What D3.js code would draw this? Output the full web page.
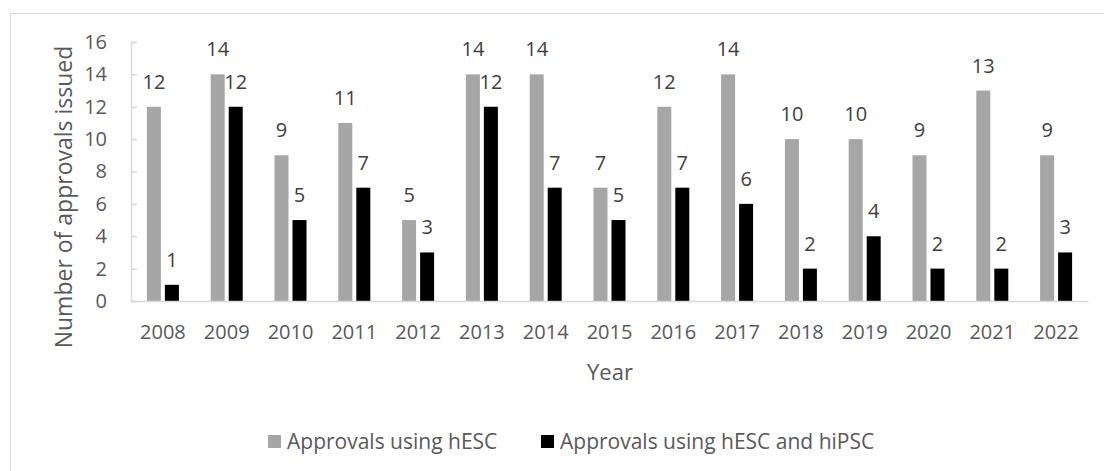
<html>
<head>
<meta charset="UTF-8">
<title>Approvals issued per year</title>
<script src="https://d3js.org/d3.v7.min.js"></script>
<style>
    body {
        margin: 0;
        background: #ffffff;
        font-family: 'Open Sans', sans-serif;
    }
    .axis text { fill: #595959; }
</style>
</head>
<body>
<div id="chart"></div>

<script type="text/javascript">
    // data
    var years = ["2008", "2009", "2010", "2011", "2012", "2013", "2014", "2015",
                 "2016", "2017", "2018", "2019", "2020", "2021", "2022"];
    var hescValues = [12, 14, 9, 11, 5, 14, 14, 7, 12, 14, 10, 10, 9, 13, 9];
    var hipscValues = [1, 12, 5, 7, 3, 12, 7, 5, 7, 6, 2, 4, 2, 2, 3];
    var seriesNames = ["Approvals using hESC", "Approvals using hESC and hiPSC"];
    var yTicks = [0, 2, 4, 6, 8, 10, 12, 14, 16];

    var width = 1104, height = 471;
    var plotLeft = 131, plotRight = 1088, plotTop = 42, plotBottom = 301;
    var colors = ["#a6a6a6", "#000000"];

    var svg = d3.select("#chart").append("svg")
        .attr("width", width)
        .attr("height", height);

    // chart frame (right and bottom edges run off the picture)
    svg.append("rect")
        .attr("x", 10.5).attr("y", 13.5)
        .attr("width", 1110).attr("height", 480)
        .attr("fill", "none")
        .attr("stroke", "#d9d9d9");

    var x = d3.scaleBand().domain(years).range([plotLeft, plotRight]).padding(0);
    var xInner = d3.scaleBand().domain(seriesNames).range([-16, 16]).paddingInner(4 / 18);
    var y = d3.scaleLinear().domain([0, 16]).range([plotBottom, plotTop]);

    // y axis
    var yAxis = svg.append("g")
        .attr("class", "axis")
        .attr("transform", "translate(" + plotLeft + ",0)")
        .call(d3.axisLeft(y).tickValues(yTicks).tickSize(-6).tickPadding(24));
    yAxis.select(".domain").attr("stroke", "#d9d9d9").attr("stroke-width", 1.5);
    yAxis.selectAll(".tick line").attr("stroke", "#d9d9d9").attr("stroke-width", 1.5);
    yAxis.selectAll("text").attr("font-size", 20).attr("font-family", "'Open Sans', sans-serif");

    // bars
    var rows = years.map(function(yr, i) {
        return { year: yr, values: [hescValues[i], hipscValues[i]] };
    });

    var groups = svg.selectAll(".year")
        .data(rows)
        .enter().append("g")
        .attr("transform", function(d) { return "translate(" + (x(d.year) + x.bandwidth() / 2) + ",0)"; });

    groups.selectAll("rect")
        .data(function(d) { return d.values.map(function(v, k) { return { name: seriesNames[k], value: v, k: k }; }); })
        .enter().append("rect")
        .attr("x", function(d) { return xInner(d.name); })
        .attr("width", xInner.bandwidth())
        .attr("y", function(d) { return y(d.value); })
        .attr("height", function(d) { return y(0) - y(d.value); })
        .attr("fill", function(d) { return colors[d.k]; });

    // data labels
    groups.selectAll(".lbl")
        .data(function(d) { return d.values.map(function(v, k) { return { name: seriesNames[k], value: v }; }); })
        .enter().append("text")
        .attr("x", function(d) { return xInner(d.name) + xInner.bandwidth() / 2; })
        .attr("y", function(d) { return y(d.value) - 18; })
        .attr("text-anchor", "middle")
        .attr("font-size", 20)
        .attr("fill", "#404040")
        .text(function(d) { return d.value; });

    // x axis
    var xAxis = svg.append("g")
        .attr("class", "axis")
        .attr("transform", "translate(0," + plotBottom + ")")
        .call(d3.axisBottom(x).tickSize(0).tickPadding(24));
    xAxis.select(".domain").attr("stroke", "#d9d9d9").attr("stroke-width", 1.5);
    xAxis.selectAll("text").attr("font-size", 20).attr("font-family", "'Open Sans', sans-serif");

    // axis titles
    svg.append("text")
        .attr("x", 610).attr("y", 380)
        .attr("text-anchor", "middle")
        .attr("font-size", 22)
        .attr("fill", "#595959")
        .text("Year");

    svg.append("text")
        .attr("transform", "translate(72,197) rotate(-90)")
        .attr("text-anchor", "middle")
        .attr("font-size", 23)
        .attr("fill", "#595959")
        .text("Number of approvals issued");

    // legend
    var legendX = [268, 541];
    var legend = svg.selectAll(".legend")
        .data(seriesNames)
        .enter().append("g")
        .attr("transform", function(d, i) { return "translate(" + legendX[i] + ",435)"; });
    legend.append("rect")
        .attr("width", 13).attr("height", 13)
        .attr("fill", function(d, i) { return colors[i]; });
    legend.append("text")
        .attr("x", 19).attr("y", 14)
        .attr("font-size", 21)
        .attr("fill", "#595959")
        .text(function(d) { return d; });
</script>
</body>
</html>
